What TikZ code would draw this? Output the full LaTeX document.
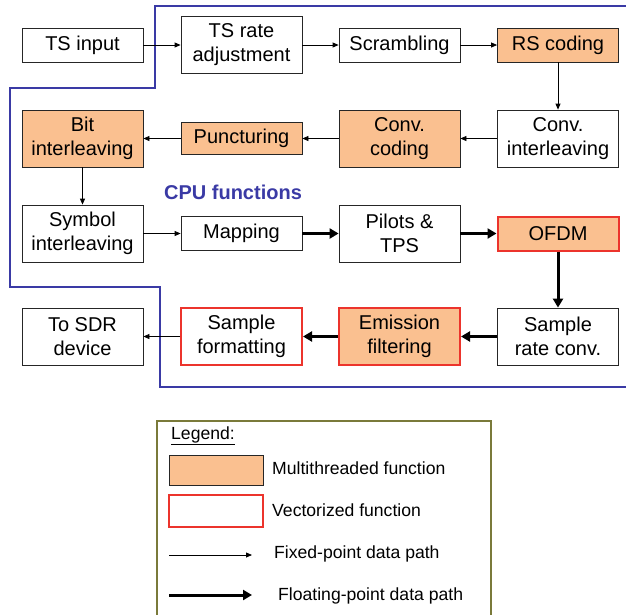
\documentclass[tikz,border=0pt]{standalone}
\usepackage{fontspec}
\setmainfont{Liberation Sans}
\usetikzlibrary{arrows.meta}

\definecolor{mtorange}{RGB}{250,192,144}
\definecolor{vecred}{RGB}{236,52,44}
\definecolor{cpublue}{RGB}{58,58,165}
\definecolor{legolive}{RGB}{122,122,58}

\begin{document}
\begin{tikzpicture}
        [x=1pt,y=-1pt,
        every node/.style={font=\fontsize{20}{24}\selectfont},
        block/.style={draw=black!85,line width=0.8pt,align=center,
                      minimum width=121pt,inner sep=1pt},
        single/.style={block,minimum height=34pt},
        double/.style={block,minimum height=57pt},
        multi/.style={fill=mtorange},
        vect/.style={draw=vecred,line width=2pt},
        fixedpath/.style={-{Triangle[length=6pt,width=5pt]},line width=0.8pt},
        floatpath/.style={-{Triangle[length=9pt,width=10pt]},line width=3pt},
        legtext/.style={anchor=west,inner sep=0pt,font=\fontsize{17.6}{20}\selectfont}]
        \useasboundingbox (0,0) rectangle (626,614);

        % CPU region
        \draw[cpublue,line width=2pt] (626,6) -| (155,88) -| (10,287) -| (160,387) -- (626,387);
        \node[cpublue,font=\fontsize{20}{24}\selectfont\bfseries] (cpu) at (233,192) {CPU functions};

        % blocks
        \node[single] (tsin) at (82.5,45) {TS input};
        \node[double] (tsrate) at (241.5,45) {TS rate\\adjustment};
        \node[single] (scramb) at (399.5,45) {Scrambling};
        \node[single,multi] (rscod) at (558,45) {RS coding};

        \node[double] (convint) at (558,138.5) {Conv.\\interleaving};
        \node[double,multi] (convcod) at (399.5,138.5) {Conv.\\coding};
        \node[block,minimum height=32pt,multi] (punct) at (241.5,138.5) {Puncturing};
        \node[double,multi] (bitint) at (82.5,138.5) {Bit\\interleaving};

        \node[double] (symint) at (82.5,233.5) {Symbol\\interleaving};
        \node[single] (mapping) at (241.5,233.5) {Mapping};
        \node[double] (pilots) at (399.5,233.5) {Pilots \&\\TPS};
        \node[single,multi,vect] (ofdm) at (558,233.5) {OFDM};

        \node[double] (srconv) at (558,336.5) {Sample\\rate conv.};
        \node[double,multi,vect] (emfilt) at (399.5,336.5) {Emission\\filtering};
        \node[double,vect] (sfmt) at (241.5,336.5) {Sample\\formatting};
        \node[double] (sdr) at (82.5,336.5) {To SDR\\device};

        % data paths
        \draw[fixedpath] (tsin) -- (tsrate);
        \draw[fixedpath] (tsrate) -- (scramb);
        \draw[fixedpath] (scramb) -- (rscod);
        \draw[fixedpath] (rscod) -- (convint);
        \draw[fixedpath] (convint) -- (convcod);
        \draw[fixedpath] (convcod) -- (punct);
        \draw[fixedpath] (punct) -- (bitint);
        \draw[fixedpath] (bitint) -- (symint);
        \draw[fixedpath] (symint) -- (mapping);
        \draw[floatpath] (mapping) -- (pilots);
        \draw[floatpath] (pilots) -- (ofdm);
        \draw[floatpath] (ofdm) -- (srconv);
        \draw[floatpath] (srconv) -- (emfilt);
        \draw[floatpath] (emfilt) -- (sfmt);
        \draw[fixedpath] (sfmt) -- (sdr);

        % legend
        \draw[legolive,line width=1.2pt] (157,620) -- (157,421) -- (491,421) -- (491,620);
        \node[legtext] (leghead) at (171,436) {\underline{Legend:}};
        \node[draw=black!85,line width=0.8pt,fill=mtorange,minimum width=94pt,minimum height=30pt,inner sep=0pt] (legmulti) at (216,470) {};
        \node[legtext] (legmultitxt) at (272,468) {Multithreaded function};
        \node[draw=vecred,line width=2pt,minimum width=94pt,minimum height=32pt,inner sep=0pt] (legvect) at (216,511) {};
        \node[legtext] (legvecttxt) at (272,510) {Vectorized function};
        \coordinate (fixa) at (169,555);
        \coordinate (fixb) at (252,555);
        \draw[fixedpath] (fixa) -- (fixb);
        \node[legtext] (legfixtxt) at (274,554) {Fixed-point data path};
        \coordinate (flta) at (169,595);
        \coordinate (fltb) at (252,595);
        \draw[floatpath] (flta) -- (fltb);
        \node[legtext] (legflttxt) at (278,596) {Floating-point data path};
\end{tikzpicture}
\end{document}
